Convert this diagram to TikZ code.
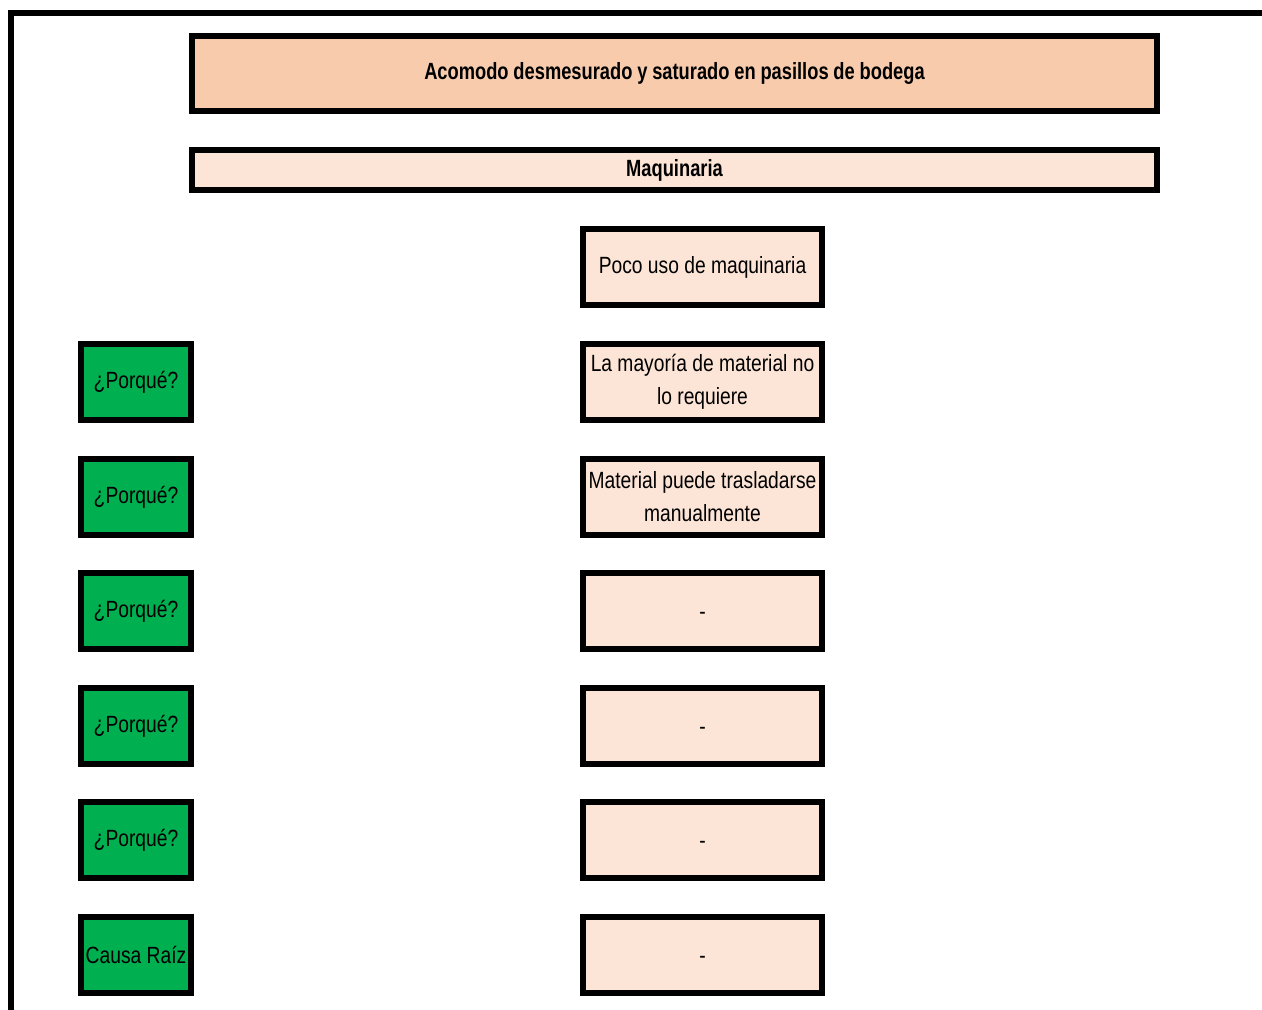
\documentclass[tikz,border=0pt]{standalone}
\usepackage{fontspec}
\setmainfont{Liberation Sans}[FakeStretch=0.82, BoldFeatures={FakeStretch=0.78}]
\definecolor{headfill}{HTML}{F8CBAD}
\definecolor{cellfill}{HTML}{FCE4D6}
\definecolor{askfill}{HTML}{00B050}
% narrow cell text with tight word spacing
\newcommand{\cellfont}{\fontsize{17.6}{24.75}\selectfont\setlength{\spaceskip}{4pt plus 1pt minus 0.5pt}}
\newcommand{\cellfontbold}{\fontsize{17.6}{24.75}\selectfont\bfseries\setlength{\spaceskip}{3.6pt plus 1pt minus 0.5pt}}
% one drawing unit is 0.75pt; sizes below are given in pt
\tikzset{
  cell/.style={draw=black, line width=3.9pt, inner sep=0pt, align=center,
    font=\cellfont},
  headbox/.style={cell, fill=headfill, minimum width=723.75pt, minimum height=56.25pt,
    font=\cellfontbold},
  groupbox/.style={cell, fill=cellfill, minimum width=723.75pt, minimum height=30pt,
    font=\cellfontbold},
  answer/.style={cell, fill=cellfill, minimum width=179.25pt, minimum height=57pt},
  ask/.style={cell, fill=askfill, minimum width=82.5pt, minimum height=57pt},
}
\newcommand{\blankmark}{\raisebox{-3.5pt}[\height][\depth]{-}}
\begin{document}
\begin{tikzpicture}[x=0.75pt, y=-0.75pt]
  \useasboundingbox (0,0) rectangle (1262,1009);
  \clip (0,0) rectangle (1262,1009);
  % outer frame (only top and left edges fall inside the page)
  \draw[line width=4.5pt] (11,1030) -- (11,13) -- (1290,13);

  \node[headbox]  (problem) at (674.5,73.5) {Acomodo desmesurado y saturado en pasillos de bodega};
  \node[groupbox] (group)   at (674.5,170)  {Maquinaria};

  \node[answer] (a0) at (702.5,267) {Poco uso de maquinaria};
  \node[answer] (a1) at (702.5,382) {La mayoría de material no\\lo requiere};
  \node[answer] (a2) at (702.5,497) {Material puede trasladarse\\manualmente};
  \node[answer] (a3) at (702.5,611) {\blankmark};
  \node[answer] (a4) at (702.5,726) {\blankmark};
  \node[answer] (a5) at (702.5,840) {\blankmark};
  \node[answer] (a6) at (702.5,955) {\blankmark};

  \node[ask] (q1) at (136,382) {¿Porqué?};
  \node[ask] (q2) at (136,497) {¿Porqué?};
  \node[ask] (q3) at (136,611) {¿Porqué?};
  \node[ask] (q4) at (136,726) {¿Porqué?};
  \node[ask] (q5) at (136,840) {¿Porqué?};
  \node[ask] (root) at (136,955) {Causa Raíz};
\end{tikzpicture}
\end{document}
